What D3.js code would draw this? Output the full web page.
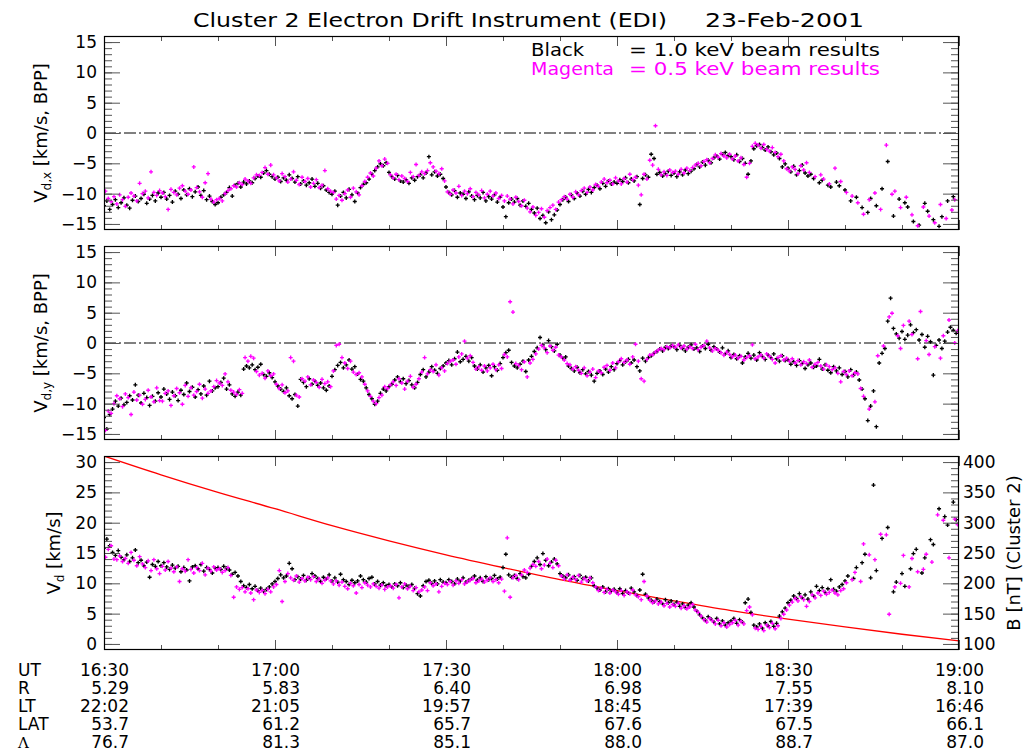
<!DOCTYPE html>
<html><head><meta charset="utf-8">
<script src="https://cdn.jsdelivr.net/npm/d3@7/dist/d3.min.js"></script>
<style>body{margin:0;background:#fff;}svg{display:block;font-family:"DejaVu Sans",sans-serif;}</style>
</head><body><svg id="c" width="1024" height="752"></svg>
<script>
// ---- data: minutes after 16:30 UT, blocks of 10 minutes ----
const utLabels = ["16:30","17:00","17:30","18:00","18:30","19:00"];
const utMinutes = [0,30,60,90,120,150];
const rLabels = ["5.29","5.83","6.40","6.98","7.55","8.10"];
const ltLabels = ["22:02","21:05","19:57","18:45","17:39","16:46"];
const latLabels = ["53.7","61.2","65.7","67.6","67.5","66.1"];
const lambdaLabels = ["76.7","81.3","85.1","88.0","88.7","87.0"];
const rowNames = ["UT","R","LT","LAT","Λ"];

const bModelMinutes = [0,10,20,30,40,50,60,70,80,90,100,110,120,130,140,150];
const bModel = [410,379,350,323,295,270,247,226,206,188,171,155,141,128,116,105];

const vdxBlack = [
[-12.0,-11.2,-12.6,-11.8,-11.0,-12.3,-11.5,-10.7,-11.9,-12.4,-11.1,-10.4,-11.3,-10.8,-10.1,-11.6,-10.9,-10.3,-11.2,-9.9],
[-10.6,-9.8,-10.9,-10.3,-11.4,-9.6,-10.1,-10.8,-9.4,-10.2,-9.2,-10.5,-9.7,-8.9,-10.3,-9.5,-11.0,-10.4,-11.3,-11.8],
[-11.5,-10.6,-10.2,-9.8,-9.0,-10.4,-8.6,-8.3,-8.9,-8.1,-8.4,-7.9,-8.2,-7.5,-7.1,-7.3,-6.6,-6.2,-6.8,-7.2],
[-7.6,-7.3,-8.0,-7.4,-7.8,-6.9,-7.5,-8.1,-7.2,-8.4,-7.9,-8.6,-8.2,-7.6,-8.8,-8.3,-9.1,-8.7,-9.4,-9.8],
[-10.1,-9.6,-11.9,-10.4,-9.8,-10.7,-9.3,-10.2,-11.3,-9.9,-9.0,-8.5,-8.2,-7.6,-6.8,-6.2,-5.6,-5.1,-5.4,-4.9],
[-6.5,-7.2,-7.6,-7.0,-7.9,-8.1,-7.7,-8.3,-7.4,-7.8,-7.2,-6.9,-7.4,-6.6,-3.9,-6.9,-6.4,-7.1,-6.8,-7.5],
[-8.9,-9.8,-10.2,-9.5,-10.6,-9.9,-10.1,-10.8,-9.7,-10.4,-11.0,-10.3,-10.7,-9.8,-11.2,-10.5,-10.9,-10.2,-11.4,-10.6],
[-12.2,-13.8,-11.5,-10.9,-11.4,-10.8,-11.9,-11.2,-12.1,-11.6,-12.6,-13.2,-12.4,-14.1,-13.6,-14.8,-13.0,-14.3,-13.5,-12.7],
[-11.8,-11.0,-10.6,-11.3,-10.2,-10.8,-9.9,-10.4,-9.6,-10.1,-9.3,-9.8,-9.0,-8.6,-9.2,-8.3,-8.8,-7.9,-8.4,-8.1],
[-8.3,-7.7,-8.0,-7.4,-8.2,-7.6,-7.9,-7.2,-11.8,-7.5,-6.9,-7.3,-3.5,-4.2,-6.8,-6.5,-7.1,-6.7,-6.3,-7.0],
[-6.6,-7.2,-6.4,-6.9,-6.1,-6.7,-6.3,-5.9,-5.2,-5.6,-4.8,-5.3,-4.5,-4.9,-4.1,-3.8,-4.3,-3.5,-3.2,-3.7],
[-3.9,-4.4,-3.6,-4.7,-4.2,-5.0,-6.8,-4.6,-2.6,-2.1,-1.9,-2.4,-2.8,-2.3,-3.1,-3.6,-3.3,-4.2,-5.6,-5.1],
[-5.8,-6.4,-5.5,-6.9,-6.2,-5.3,-6.6,-7.1,-6.8,-7.5,null,-8.2,-7.8,null,-8.6,-8.9,null,-8.1,-8.7,null],
[-9.4,null,-11.2,null,-10.6,null,-12.3,null,-13.1,-10.8,null,-12.0,null,-9.2,null,-4.7,null,-13.7,null,-10.9],
[null,-11.5,-12.2,null,-14.6,null,-15.2,null,-11.6,-12.9,null,-14.3,null,-15.4,-13.8,null,-11.2,null,-10.5,null]
];
const vdxMagenta = [
[-9.6,-10.8,-11.3,-10.5,-11.7,-10.2,-11.0,-12.1,-10.6,-9.9,-10.4,-11.2,-8.3,-10.0,-9.6,-10.7,-6.4,-9.8,-10.3,-9.5],
[-9.9,-10.5,-12.6,-9.3,-9.8,-10.2,-9.1,-8.7,-9.6,-10.1,-9.4,-5.6,-9.0,-9.7,-10.6,-8.2,-6.7,-10.9,-11.4,-11.0],
[-10.8,-11.2,-10.0,-9.5,-9.2,-8.7,-8.9,-8.2,-8.5,-7.6,-7.9,-8.3,-7.4,-6.9,-7.0,-6.5,-5.7,-6.8,-5.3,-6.9],
[-7.4,-7.9,-6.7,-7.2,-8.1,-7.6,-6.4,-7.8,-8.5,-7.3,-8.0,-7.5,-8.9,-8.3,-7.7,-9.0,-8.6,-6.2,-9.2,-9.6],
[-9.8,-10.9,-10.3,-11.1,-10.0,-9.4,-10.6,-9.1,-9.7,-10.2,-8.7,-8.0,-7.3,-6.6,-7.1,-5.8,-4.6,-5.4,-4.3,-5.0],
[-6.9,-7.4,-6.8,-7.7,-7.1,-7.5,-8.0,-6.5,-7.2,-5.2,-7.0,-6.4,-6.7,-6.2,-4.9,-5.6,-6.3,-6.7,-5.9,-7.9],
[-9.7,-10.1,-9.4,-9.9,-8.8,-10.3,-9.6,-10.0,-9.2,-10.5,-9.8,-10.2,-9.5,-10.7,-10.1,-9.6,-10.4,-9.9,-10.8,-10.3],
[-11.2,-10.4,-10.9,-11.7,-10.6,-11.3,-12.0,-11.1,-12.4,-13.0,-12.2,-13.6,-13.1,-12.5,-13.9,-12.8,-12.3,-11.9,-12.6,-11.4],
[-11.0,-10.5,-10.9,-10.1,-10.6,-9.7,-10.2,-9.5,-9.1,-9.8,-8.9,-9.4,-8.5,-8.8,-8.1,-7.6,-8.2,-7.8,-8.4,-7.4],
[-7.9,-8.4,-7.5,-8.1,-6.8,-7.7,-7.3,-8.6,-10.2,-6.8,-7.6,-4.5,-5.3,1.2,-6.0,-6.9,-6.4,-7.0,-6.1,-6.5],
[-6.3,-6.8,-6.0,-6.6,-5.8,-6.2,-5.7,-5.3,-5.0,-5.4,-4.7,-4.4,-4.9,-4.2,-3.6,-4.0,-3.4,-3.8,-4.1,-3.5],
[-4.3,-3.8,-4.6,-4.1,-5.2,-7.3,-5.0,-2.2,-1.7,-2.0,-2.5,-1.9,-2.7,-3.0,-2.4,-3.2,-3.9,-3.5,-4.6,-5.9],
[-6.3,-5.6,-6.0,-6.7,-5.4,-6.1,-4.9,-6.5,null,-7.2,null,-6.9,-7.6,null,-8.4,null,-5.8,null,-8.0,null],
[-9.8,null,-10.4,null,-11.5,null,-13.4,null,-11.0,null,-9.9,null,-12.6,null,-2.0,null,-10.1,-9.6,null,-12.3],
[null,-10.6,null,-13.5,null,-15.3,null,-12.2,null,-13.7,null,-14.8,null,-11.8,null,-14.1,null,-12.7,-11.0,null]
];
const vdyBlack = [
[-12.3,-14.2,-11.8,-10.9,-9.6,-10.4,-9.1,-10.2,-9.8,-8.7,-9.4,-6.9,-8.6,-9.9,-8.3,-9.0,-10.3,-8.8,-9.6,-8.2],
[-8.9,-7.6,-8.4,-9.3,-8.1,-8.7,-9.5,-7.8,-8.5,-6.6,-8.0,-7.3,-8.9,-7.7,-8.4,-7.1,-8.6,-6.3,-7.9,-7.4],
[-7.2,-6.5,-5.8,-7.6,-6.9,-8.4,-8.8,-8.1,-8.6,-4.3,-3.8,-4.1,-3.6,-4.4,-4.0,-3.5,-5.2,-5.5,-4.9,-5.7],
[-6.4,-7.1,-7.6,-8.0,-7.4,-8.7,-9.2,-8.5,-10.4,-6.0,-6.5,-7.2,-5.9,-6.8,-6.3,-7.0,-6.6,-7.4,-7.8,-7.1],
[-5.5,-4.4,-3.7,-3.2,-4.1,-3.6,-2.8,-4.3,-3.9,-5.1,-6.0,-6.3,-7.4,-8.5,-9.2,-10.1,-9.6,-8.3,-7.6,-7.9],
[-7.2,-6.8,-6.1,-5.6,-6.4,-5.9,-6.7,-6.2,-6.9,-7.4,-6.5,-5.2,-4.4,-5.6,-4.8,-3.9,-4.5,-5.0,-4.2,-3.8],
[-3.3,-2.9,-3.6,-2.6,-1.5,-3.1,-2.7,-2.2,-3.0,-2.4,-3.8,-4.3,-3.6,-4.8,-4.1,-3.7,-5.4,-3.9,-4.5,-3.4],
[-2.4,-1.6,-1.2,-3.2,-3.8,-4.1,-3.5,-3.0,-4.7,-2.8,-2.2,-1.4,-0.8,0.9,-0.3,-1.1,0.4,-0.6,-1.3,-0.2],
[-2.0,-2.5,-2.3,-3.8,-4.2,-4.6,-4.0,-4.9,-4.4,-5.1,-4.7,-5.3,-6.3,-5.0,-4.6,-5.2,-4.3,-4.8,-3.9,-4.4],
[-3.4,-2.9,-3.6,-3.1,-2.7,-3.3,-2.8,-3.9,-4.6,-2.5,-3.0,-2.4,-2.1,-1.7,-1.4,-1.0,-1.3,-0.7,-0.9,-0.5],
[-0.6,-1.1,-0.4,-0.9,-1.3,-0.7,-0.3,-1.0,-0.8,-1.4,-0.5,-0.9,-0.2,-1.2,-0.6,-1.0,-1.5,-0.8,-1.8,-1.3],
[-2.4,-1.9,-2.6,-2.1,-3.3,-2.3,-1.7,-2.5,-2.0,-2.8,-1.6,-2.2,-2.7,-2.0,-2.4,-1.8,-2.6,-3.0,-2.1,-2.9],
[-2.8,-3.5,-3.1,-3.7,-2.9,-3.4,-4.2,-3.6,-3.3,-4.0,-3.8,-2.7,-4.3,-3.6,-4.5,-4.9,-3.9,-4.6,-4.1,-5.2],
[-4.7,-5.6,-4.4,-5.3,-4.8,-6.1,-7.6,-9.2,-12.8,-10.4,-7.9,-13.8,-3.3,-1.7,-0.9,3.6,7.4,2.4,1.5,0.8],
[1.9,0.6,1.3,3.0,1.7,2.2,0.5,1.4,-0.7,1.1,0.2,-5.3,-0.4,0.5,-0.9,0.3,1.8,2.6,2.1,1.6]
];
const vdyMagenta = [
[-14.4,-11.2,-11.6,-10.0,-8.7,-9.2,-10.5,-8.4,-9.0,-11.8,-8.1,-9.4,-8.6,-10.1,-9.3,-7.8,-8.9,-9.7,-7.4,-9.5],
[-9.6,-8.3,-7.9,-10.3,-8.7,-7.5,-8.2,-10.1,-7.0,-8.8,-7.4,-8.6,-8.0,-6.8,-9.1,-7.6,-8.3,-7.9,-7.2,-6.2],
[-6.6,-7.0,-5.1,-6.4,-7.8,-8.1,-8.5,-7.7,-8.3,-2.4,-3.0,-2.2,-2.5,-4.7,-5.3,-5.0,-5.8,-4.6,-5.4,-5.1],
[-6.8,-7.5,-6.9,-8.2,-7.9,-2.4,-3.0,-8.6,-8.9,-5.9,-6.3,-5.6,-6.9,-6.1,-6.5,-7.3,-6.0,-6.7,-6.4,-7.2],
[-4.6,-0.4,-0.2,-2.4,-3.3,-4.2,-3.0,-4.8,-5.2,-4.9,-5.6,-6.8,-7.9,-8.8,-9.6,-10.0,-9.0,-8.6,-7.2,-7.5],
[-6.9,-6.4,-7.0,-5.9,-6.6,-7.6,-6.3,-5.5,-7.3,-6.8,-5.9,-4.8,-2.4,-5.1,-4.4,-4.7,-3.6,-5.3,-4.1,-4.6],
[-3.4,-3.0,-2.8,-3.5,-2.3,-1.8,0.3,-2.5,-2.1,-3.2,-4.3,-3.9,-4.5,-3.8,-4.6,-4.1,-3.5,-4.4,-3.6,-4.2],
[-1.9,-2.3,6.8,5.1,-3.4,-3.7,-4.4,-3.1,-5.6,-3.3,-2.7,-1.8,-1.0,-0.4,-0.8,-1.6,-0.5,-1.2,-0.7,-2.0],
[-2.3,-2.8,-3.4,-3.6,-4.3,-3.9,-4.5,-5.0,-4.1,-5.4,-4.8,-4.3,-5.7,-4.6,-4.9,-4.0,-3.7,-4.5,-3.3,-4.1],
[-3.1,-2.6,-3.2,-2.8,-3.5,-2.3,-0.2,-3.0,-5.9,-6.3,-2.7,-2.0,-1.9,-1.5,-1.2,-0.9,-1.1,-0.6,-0.8,-0.4],
[-0.7,-0.3,-0.8,-0.5,-1.0,-0.6,-0.9,-0.2,-1.1,-0.7,-0.4,0.3,-0.8,-1.3,-0.9,-1.2,-1.6,-2.0,-1.5,-1.9],
[-2.3,-2.0,-2.5,-2.2,-2.8,-2.4,-2.1,-0.3,-2.6,-2.3,-2.0,-2.5,-1.8,-2.2,-2.7,-3.3,-2.4,-2.1,-2.8,-2.5],
[-3.0,-2.6,-3.3,-2.9,-3.6,-3.1,-3.4,-2.8,-4.0,-3.5,-3.2,-3.8,-4.3,-3.6,-3.9,-4.4,-4.1,-5.0,-6.4,-4.7],
[-5.2,-4.6,-5.4,-4.9,-5.1,-7.5,-8.8,null,-10.9,null,-9.7,-2.1,null,-0.5,null,4.3,4.9,null,1.2,-0.9],
[2.9,null,3.6,1.4,null,-2.6,5.2,null,0.4,-1.9,null,-0.6,null,-2.5,1.2,null,3.8,null,0.0,2.0]
];
const vdBlack = [
[15.8,17.3,16.2,15.1,14.6,15.4,14.3,13.9,14.7,13.6,14.2,15.5,13.4,13.8,12.9,13.5,11.0,13.1,12.8,13.6],
[12.9,13.4,12.7,12.3,13.0,12.5,12.8,11.9,12.6,12.2,10.4,12.7,12.9,12.4,13.1,12.0,12.6,12.3,11.7,12.5],
[12.6,12.3,12.8,12.5,12.2,11.5,11.8,11.2,10.3,9.6,9.3,9.8,9.1,9.5,8.8,9.2,8.7,9.0,9.4,9.9],
[10.3,10.8,11.4,10.9,11.2,13.3,12.4,10.6,11.1,10.7,11.3,10.5,10.9,11.6,11.2,10.8,10.3,11.0,10.7,11.4],
[10.4,10.9,10.2,11.5,10.6,10.3,9.8,10.5,10.1,10.4,11.2,10.6,10.2,10.8,11.0,9.9,10.3,9.7,10.1,9.6],
[9.8,9.4,9.9,9.6,10.1,9.3,9.7,9.5,9.8,9.2,8.3,7.9,9.6,10.3,10.5,10.0,10.4,9.9,10.6,10.2],
[10.1,10.6,10.3,9.9,10.7,10.4,10.9,10.2,10.5,10.8,11.2,10.5,10.9,10.3,11.1,10.6,10.8,11.3,10.7,11.0],
[12.6,14.8,11.4,11.0,11.3,10.8,11.6,11.1,10.9,11.5,12.8,13.6,14.2,13.1,14.9,13.8,12.9,13.5,14.0,13.2],
[11.6,11.2,10.9,11.4,10.7,11.1,10.5,11.3,10.8,11.0,10.4,10.9,9.6,9.2,8.9,9.4,8.6,9.1,8.7,9.0],
[8.5,9.1,8.3,8.8,8.4,9.2,8.6,8.0,8.9,11.5,8.2,7.6,7.2,6.9,7.4,7.0,6.6,7.3,6.8,7.1],
[6.5,6.9,6.2,6.6,6.0,6.4,6.8,6.1,5.4,4.8,4.3,3.9,4.5,4.1,3.6,4.2,3.3,3.8,3.1,3.5],
[3.8,4.2,3.4,4.0,3.6,6.8,7.4,5.2,3.1,2.8,3.3,2.6,3.5,3.0,3.7,2.9,3.4,4.6,5.3,5.9],
[6.8,7.2,7.9,7.5,8.3,7.6,8.1,7.4,8.6,7.9,9.5,8.8,9.3,8.5,9.1,10.6,9.0,8.7,9.4,9.8],
[10.4,11.2,null,10.8,12.6,null,13.4,14.8,null,10.9,26.2,12.1,null,17.4,null,19.2,null,8.6,10.2,null],
[11.6,9.5,null,12.4,14.9,15.6,null,11.7,14.2,null,17.2,16.4,null,22.3,null,21.0,19.6,null,23.4,20.5]
];
const vdMagenta = [
[14.3,15.6,16.2,14.0,13.9,14.5,13.6,14.1,13.3,15.1,13.8,12.9,14.4,13.2,12.6,13.7,12.1,13.9,12.4,11.6],
[12.8,12.2,13.6,12.5,11.9,12.7,10.3,12.4,12.0,13.9,12.3,11.7,12.6,12.1,13.3,11.4,12.5,12.0,12.7,12.2],
[12.4,11.8,12.1,12.6,11.3,7.7,9.4,9.0,9.3,8.6,9.1,8.4,7.3,8.9,8.5,8.8,8.3,9.0,8.6,9.4],
[9.8,12.1,7.0,10.3,11.6,10.9,10.5,11.2,10.2,10.8,10.4,11.0,10.6,11.1,10.3,10.7,10.0,10.5,10.9,10.4],
[9.9,10.4,9.7,10.2,9.5,9.1,10.0,9.6,8.4,9.8,9.3,10.1,9.7,9.4,9.9,9.5,9.2,9.7,9.0,9.4],
[9.6,9.2,9.8,7.6,9.4,9.9,9.1,9.5,8.8,9.3,8.6,8.9,9.4,8.8,10.1,9.6,9.9,8.6,9.5,10.0],
[9.8,10.3,9.7,10.4,10.0,10.6,9.9,10.2,10.5,10.8,10.1,10.4,10.7,10.2,10.5,10.9,10.3,10.6,10.1,10.7],
[8.7,17.5,7.7,10.9,11.3,10.6,11.4,12.2,11.8,12.5,13.1,12.8,13.6,12.4,13.0,14.0,13.3,12.6,13.8,12.9],
[11.2,10.7,11.4,10.5,11.0,10.6,11.3,10.2,10.8,10.4,10.9,10.1,9.4,8.8,9.2,8.5,9.0,8.4,8.9,8.6],
[8.2,8.8,8.0,8.6,8.3,8.9,8.1,7.8,7.3,10.3,7.9,7.2,6.8,7.1,6.6,6.9,6.3,6.7,6.1,6.5],
[6.2,6.7,5.9,6.3,5.8,6.1,6.5,5.6,5.2,4.6,4.0,3.6,4.2,3.8,3.3,3.9,3.0,3.5,2.8,3.2],
[3.5,3.9,3.1,3.7,3.3,5.5,6.1,4.8,2.6,2.4,2.9,2.2,3.1,2.7,3.4,2.5,3.0,4.2,4.9,5.6],
[6.4,6.9,7.5,7.1,7.8,7.3,6.2,7.0,8.1,7.6,8.4,8.0,8.7,8.2,8.5,8.9,8.4,8.1,8.8,9.1],
[10.1,null,10.6,11.8,null,10.3,16.5,null,14.7,null,13.9,null,18.1,null,18.0,4.9,null,9.4,null,10.0],
[14.6,null,9.4,14.1,null,11.9,null,12.3,14.8,null,13.5,null,21.3,null,20.4,null,14.2,null,20.6,19.7]
];

// ---- drawing ----
const svg = d3.select("#c");
const X0 = 104, X1 = 959;
const x = d3.scaleLinear().domain([0,150]).range([X0,X1]);
const xMinorTicks = d3.range(0,151,10);

function flatten(blocks, offset){
  const out = [];
  blocks.forEach((blk,b)=>blk.forEach((v,i)=>{ if(v!==null) out.push({t:b*10+(i+offset)*10/blk.length, v:v}); }));
  return out;
}

const panels = [
  {top:36,bottom:230,domain:[-16,16],majors:[-15,-10,-5,0,5,10,15],black:vdxBlack,mag:vdxMagenta,zero:true,sub:"d,x",rest:" [km/s, BPP]",lx:41},
  {top:246,bottom:440,domain:[-16,16],majors:[-15,-10,-5,0,5,10,15],black:vdyBlack,mag:vdyMagenta,zero:true,sub:"d,y",rest:" [km/s, BPP]",lx:41},
  {top:456,bottom:650,domain:[-1,31],majors:[0,5,10,15,20,25,30],black:vdBlack,mag:vdMagenta,zero:false,sub:"d",rest:" [km/s]",lx:54}
];

const cross = d3.symbol().type(d3.symbolCross).size(9)();

panels.forEach((p,pi)=>{
  const y = d3.scaleLinear().domain(p.domain).range([p.bottom,p.top]);
  const minors = d3.range(p.domain[0]+1,p.domain[1]);
  const cid = "clip"+pi;
  svg.append("clipPath").attr("id",cid).append("rect")
    .attr("x",X0).attr("y",p.top).attr("width",X1-X0).attr("height",p.bottom-p.top);
  const g = svg.append("g");

  if(p.zero){
    g.append("line").attr("x1",X0).attr("x2",X1).attr("y1",y(0)).attr("y2",y(0))
      .attr("stroke","#000").attr("stroke-width",1).attr("stroke-dasharray","12,3,2,3");
  }
  const data = g.append("g").attr("clip-path",`url(#${cid})`);
  if(pi===2){
    const yB = d3.scaleLinear().domain([90,410]).range([p.bottom,p.top]);
    data.append("path").datum(bModelMinutes.map((m,i)=>[m,bModel[i]]))
      .attr("fill","none").attr("stroke","#ff0000").attr("stroke-width",1.3)
      .attr("d", d3.line().x(d=>x(d[0])).y(d=>yB(d[1])).curve(d3.curveMonotoneX));
  }
  data.selectAll("path.b").data(flatten(p.black,0)).join("path").attr("class","b")
    .attr("d",cross).attr("fill","#000").attr("transform",d=>`translate(${x(d.t)},${y(d.v)})`);
  data.selectAll("path.m").data(flatten(p.mag,0.5)).join("path").attr("class","m")
    .attr("d",cross).attr("fill","#ff00ff").attr("transform",d=>`translate(${x(d.t)},${y(d.v)})`);

  const tickCol = "#555";
  function style(sel){ sel.select(".domain").remove(); sel.selectAll(".tick line").attr("stroke",tickCol); sel.selectAll("text").attr("font-size",17).attr("fill","#000").attr("font-family","DejaVu Sans, sans-serif"); }
  // x ticks
  g.append("g").attr("transform",`translate(0,${p.bottom})`).call(d3.axisBottom(x).tickValues(xMinorTicks).tickSize(-5).tickFormat("")).call(style);
  g.append("g").attr("transform",`translate(0,${p.bottom})`).call(d3.axisBottom(x).tickValues(utMinutes).tickSize(-10).tickFormat("")).call(style);
  g.append("g").attr("transform",`translate(0,${p.top})`).call(d3.axisTop(x).tickValues(xMinorTicks).tickSize(-5).tickFormat("")).call(style);
  g.append("g").attr("transform",`translate(0,${p.top})`).call(d3.axisTop(x).tickValues(utMinutes).tickSize(-10).tickFormat("")).call(style);
  // y ticks
  g.append("g").attr("transform",`translate(${X0},0)`).call(d3.axisLeft(y).tickValues(minors).tickSize(-8).tickFormat("")).call(style);
  g.append("g").attr("transform",`translate(${X0},0)`).call(d3.axisLeft(y).tickValues(p.majors).tickSize(-16).tickPadding(7)).call(style);
  if(pi<2){
    g.append("g").attr("transform",`translate(${X1},0)`).call(d3.axisRight(y).tickValues(minors).tickSize(-8).tickFormat("")).call(style);
    g.append("g").attr("transform",`translate(${X1},0)`).call(d3.axisRight(y).tickValues(p.majors).tickSize(-16).tickFormat("")).call(style);
  } else {
    const yB = d3.scaleLinear().domain([90,410]).range([p.bottom,p.top]);
    g.append("g").attr("transform",`translate(${X1},0)`).call(d3.axisRight(yB).tickValues(d3.range(100,401,10)).tickSize(-8).tickFormat("")).call(style);
    g.append("g").attr("transform",`translate(${X1},0)`).call(d3.axisRight(yB).tickValues(d3.range(100,401,50)).tickSize(-16).tickPadding(4)).call(style);
  }
  // frame
  g.append("rect").attr("x",X0+0.5).attr("y",p.top+0.5).attr("width",X1-X0-1).attr("height",p.bottom-p.top-1)
    .attr("fill","none").attr("stroke","#000").attr("stroke-width",1.2);
  // y title
  const cy = (p.top+p.bottom)/2;
  const t = g.append("text").attr("transform",`translate(${p.lx},${cy}) rotate(-90)`)
    .attr("text-anchor","middle").attr("dy","0.35em").attr("font-size",18).attr("fill","#000");
  t.append("tspan").text("V");
  t.append("tspan").attr("font-size",12).attr("dy",4).text(p.sub);
  t.append("tspan").attr("dy",-4).text(p.rest);
});

// right title
svg.append("text").attr("transform","translate(1014,553) rotate(-90)").attr("text-anchor","middle")
  .attr("dy","0.35em").attr("font-size",18).text("B [nT] (Cluster 2)");

// main title
svg.append("text").attr("x",193).attr("y",27).attr("font-size",20).attr("textLength",474).attr("lengthAdjust","spacingAndGlyphs").text("Cluster 2 Electron Drift Instrument (EDI)");
svg.append("text").attr("x",705).attr("y",27).attr("font-size",20).attr("textLength",159).attr("lengthAdjust","spacingAndGlyphs").text("23-Feb-2001");

// legend
svg.append("text").attr("x",531).attr("y",56).attr("font-size",17).attr("textLength",53).attr("lengthAdjust","spacingAndGlyphs").text("Black");
svg.append("text").attr("x",629).attr("y",56).attr("font-size",17).attr("textLength",251).attr("lengthAdjust","spacingAndGlyphs").text("= 1.0 keV beam results");
svg.append("text").attr("x",531).attr("y",75).attr("font-size",17).attr("fill","#ff00ff").attr("textLength",83).attr("lengthAdjust","spacingAndGlyphs").text("Magenta");
svg.append("text").attr("x",629).attr("y",75).attr("font-size",17).attr("fill","#ff00ff").attr("textLength",251).attr("lengthAdjust","spacingAndGlyphs").text("= 0.5 keV beam results");

// bottom annotation rows
const rows = [utLabels,rLabels,ltLabels,latLabels,lambdaLabels];
const rowY = [676,694,712,730,748];
rows.forEach((labels,ri)=>{
  const nm = svg.append("text").attr("x",18).attr("y",rowY[ri]).attr("font-size",ri===4?15:17).text(rowNames[ri]);
  if(ri===4) nm.attr("font-family","DejaVu Serif, serif");
  svg.selectAll(null).data(labels).join("text").attr("x",(d,i)=>x(utMinutes[i])+25).attr("y",rowY[ri])
    .attr("text-anchor","end").attr("font-size",17).text(d=>d);
});
</script></body></html>
